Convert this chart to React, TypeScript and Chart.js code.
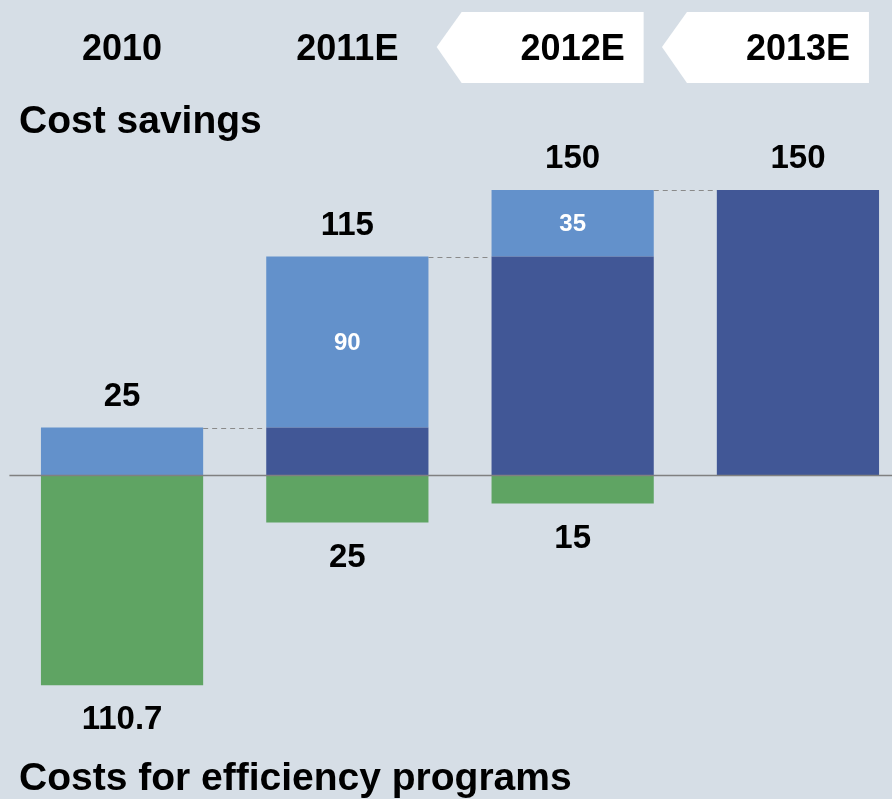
import React, { useEffect, useRef } from "react";
import { Chart, registerables } from "chart.js";
Chart.register(...registerables);

const categories = ["2010", "2011E", "2012E", "2013E"];
const carriedSavings = [0, 25, 115, 150];
const newSavings = [25, 90, 35, 0];
const programCosts = [-110.7, -25, -15, 0];
const totalSavings = [25, 115, 150, 150];
const insideLabels: (string | null)[] = [null, "90", "35", null];
const costLabels: (string | null)[] = ["110.7", "25", "15", null];
const highlighted = [false, false, true, true];
const titleTop = "Cost savings";
const titleBottom = "Costs for efficiency programs";

const BG = "#d6dee6";
const LIGHT = "#6391cb";
const DARK = "#415796";
const GREEN = "#5fa463";
const FONT = "'Liberation Sans', Arial, sans-serif";

const drawPlugin = {
  id: "decor",
  beforeDraw(chart: any) {
    const ctx = chart.ctx;
    const xs = chart.scales.x;
    ctx.save();
    ctx.fillStyle = BG;
    ctx.fillRect(0, 0, chart.width, chart.height);
    categories.forEach((c, i) => {
      const x = xs.getPixelForValue(i);
      if (highlighted[i]) {
        ctx.fillStyle = "#ffffff";
        ctx.beginPath();
        ctx.moveTo(x - 136, 47);
        ctx.lineTo(x - 111, 12);
        ctx.lineTo(x + 71, 12);
        ctx.lineTo(x + 71, 83);
        ctx.lineTo(x - 111, 83);
        ctx.closePath();
        ctx.fill();
      }
      ctx.fillStyle = "#000";
      ctx.font = `bold 36px ${FONT}`;
      ctx.textAlign = "center";
      ctx.textBaseline = "middle";
      ctx.fillText(c, x, 50);
    });
    ctx.textAlign = "left";
    ctx.font = `bold 39px ${FONT}`;
    ctx.fillText(titleTop, 19, 122);
    ctx.fillText(titleBottom, 19, 779);
    ctx.restore();
  },
  afterDatasetsDraw(chart: any) {
    const ctx = chart.ctx;
    const ys = chart.scales.y;
    const area = chart.chartArea;
    const metaTop = chart.getDatasetMeta(1);
    ctx.save();
    const y0 = Math.round(ys.getPixelForValue(0)) + 0.5;
    ctx.strokeStyle = "#808080";
    ctx.lineWidth = 1.5;
    ctx.beginPath();
    ctx.moveTo(area.left, y0);
    ctx.lineTo(area.right, y0);
    ctx.stroke();

    ctx.setLineDash([5, 4]);
    ctx.lineWidth = 1;
    ctx.strokeStyle = "#8a8a8a";
    for (let i = 0; i < categories.length - 1; i++) {
      const a = metaTop.data[i];
      const b = metaTop.data[i + 1];
      const y = Math.round(ys.getPixelForValue(totalSavings[i])) + 0.5;
      ctx.beginPath();
      ctx.moveTo(a.x + a.width / 2, y);
      ctx.lineTo(b.x - b.width / 2, y);
      ctx.stroke();
    }
    ctx.setLineDash([]);

    ctx.textAlign = "center";
    ctx.textBaseline = "middle";
    categories.forEach((_, i) => {
      const x = metaTop.data[i].x;
      ctx.fillStyle = "#000";
      ctx.font = `bold 33px ${FONT}`;
      const yt = ys.getPixelForValue(totalSavings[i]);
      ctx.fillText(String(totalSavings[i]), x, yt - 31);
      if (costLabels[i]) {
        const yb = ys.getPixelForValue(programCosts[i]);
        ctx.fillText(costLabels[i], x, yb + 35);
      }
      if (insideLabels[i]) {
        const y1 = ys.getPixelForValue(carriedSavings[i]);
        const y2 = ys.getPixelForValue(carriedSavings[i] + newSavings[i]);
        ctx.fillStyle = "#fff";
        ctx.font = `bold 24px ${FONT}`;
        ctx.fillText(insideLabels[i], x, (y1 + y2) / 2 + 1);
      }
    });
    ctx.restore();
  },
};

export default function App() {
  const ref = useRef<HTMLCanvasElement>(null);
  useEffect(() => {
    if (!ref.current) return;
    const chart = new Chart(ref.current, {
      type: "bar",
      data: {
        labels: categories,
        datasets: [
          { label: "carried", data: carriedSavings, backgroundColor: DARK, stack: "s" },
          { label: "new", data: newSavings, backgroundColor: LIGHT, stack: "s" },
          { label: "costs", data: programCosts, backgroundColor: GREEN, stack: "s" },
        ],
      },
      options: {
        responsive: false,
        animation: false,
        devicePixelRatio: 1,
        layout: { padding: { left: 9.4, right: 9.4, top: 95, bottom: 39 } },
        datasets: { bar: { barPercentage: 0.72, categoryPercentage: 1, borderWidth: 0 } },
        plugins: { legend: { display: false }, tooltip: { enabled: false } },
        scales: {
          x: { display: false, stacked: true },
          y: { display: false, stacked: true, min: -150, max: 200 },
        },
      },
      plugins: [drawPlugin],
    });
    return () => chart.destroy();
  }, []);
  return (
    <div style={{ position: "fixed", left: 0, top: 0, width: 892, height: 799, overflow: "hidden", background: BG }}>
      <canvas ref={ref} width={920} height={799} style={{ display: "block" }} />
    </div>
  );
}
